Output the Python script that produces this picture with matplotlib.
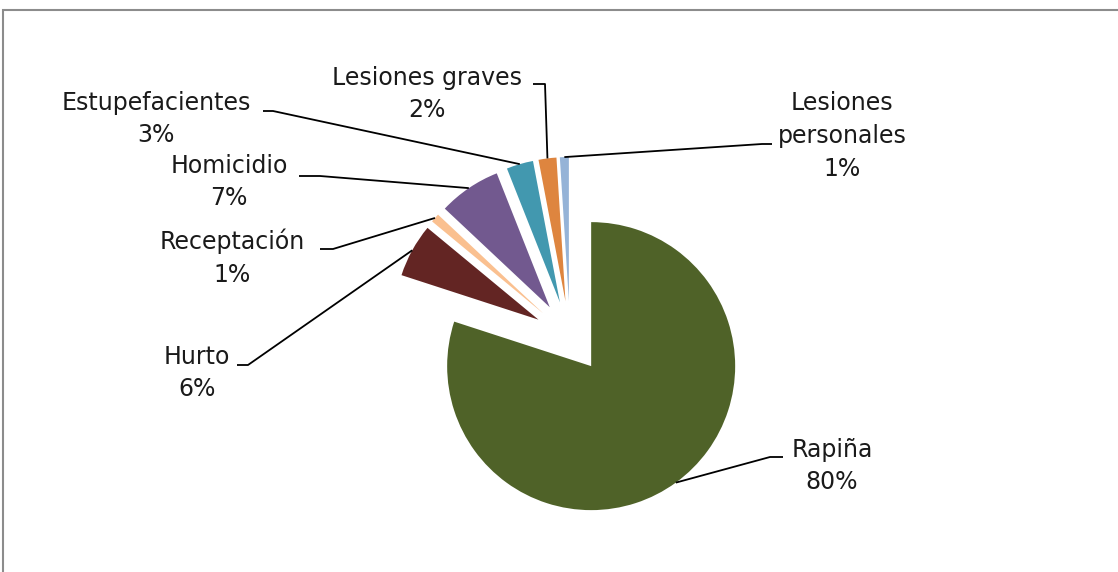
import math
import matplotlib
matplotlib.use("Agg")
import matplotlib.pyplot as plt
from matplotlib.patches import Rectangle

# data
categories = ['Rapiña', 'Hurto', 'Receptación', 'Homicidio',
              'Estupefacientes', 'Lesiones graves', 'Lesiones personales']
percentages = [80, 6, 1, 7, 3, 2, 1]
label_texts = ['Rapiña\n80%', 'Hurto\n6%', 'Receptación\n1%', 'Homicidio\n7%',
               'Estupefacientes\n3%', 'Lesiones graves\n2%', 'Lesiones\npersonales\n1%']
colors = ['#4F6228', '#632523', '#FAC090', '#72598F',
          '#4298AF', '#DE853F', '#95B3D7']

W, H = 1118, 572


def py(y):
    # pixel row -> data y (y up)
    return H - y


# layout (pixel coords): label centre, leader stub (x start, x end, y)
label_pos = [(832, 466), (197, 373), (232, 258), (229, 182),
             (156, 119), (427, 94), (842, 136)]
stubs = [(783, 770, 457), (237, 248, 365), (320, 333, 249), (299, 320, 176),
         (263, 273, 111), (533, 545, 84), (772, 762, 144)]

fig = plt.figure(figsize=(W / 100, H / 100), dpi=100)
ax = fig.add_axes([0, 0, 1, 1])

radius = 144
wedges, _ = ax.pie(percentages, colors=colors, startangle=90, counterclock=False,
                   radius=radius, center=(570, py(337)),
                   explode=[0.25 * radius] * len(percentages),
                   wedgeprops=dict(linewidth=0))

ax.set_xlim(0, W)
ax.set_ylim(0, H)
ax.set_aspect('equal')
ax.axis('off')

for w, txt, (tx, ty), (sx0, sx1, sy) in zip(wedges, label_texts, label_pos, stubs):
    tm = math.radians((w.theta1 + w.theta2) / 2)
    cx, cy = w.center
    ax_, ay_ = cx + w.r * math.cos(tm), cy + w.r * math.sin(tm)
    ax.plot([sx0, sx1, ax_], [py(sy), py(sy), ay_], color='black', lw=1.3,
            solid_capstyle='butt', zorder=3)
    ax.text(tx, py(ty), txt, ha='center', va='center', fontsize=17,
            family='DejaVu Sans', linespacing=1.47, color='#1a1a1a')

# outer frame (right/bottom edges cut off)
fig.patches.append(Rectangle((3 / W, -0.1), 1.2, (H - 10) / H + 0.1,
                             transform=fig.transFigure, fill=False,
                             edgecolor='#8C8C8C', lw=1.5))

fig.savefig('out.png', dpi=100)
